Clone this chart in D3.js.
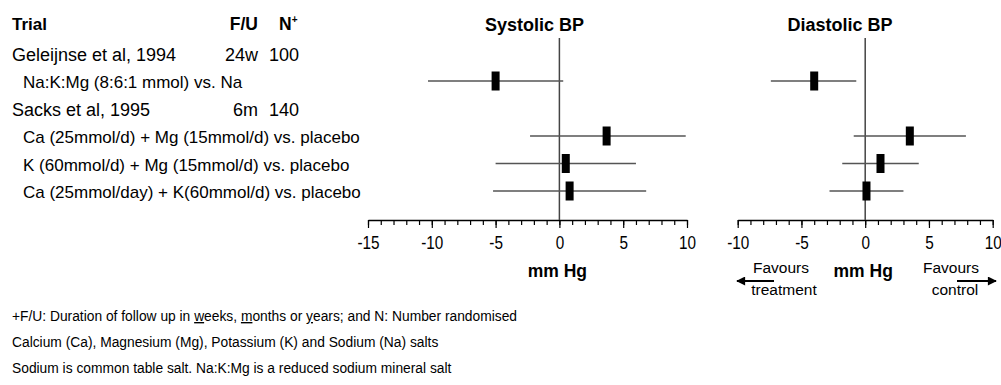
<!DOCTYPE html>
<html>
<head>
<meta charset="utf-8">
<script src="https://cdn.jsdelivr.net/npm/d3@7"></script>
<style>
  body { margin: 0; background: #fff; }
  svg { font-family: "Liberation Sans", Arial, sans-serif; }
</style>
</head>
<body>
<script>
// forest plot: systolic & diastolic BP, mineral salt trials

var trials = ["Geleijnse et al, 1994", "Sacks et al, 1995"];
var followUp = ["24w", "6m"];
var nRandom = ["100", "140"];
var trialRow = [0, 2];

var comparisons = [
  "Na:K:Mg (8:6:1 mmol) vs. Na",
  "Ca (25mmol/d) + Mg (15mmol/d) vs. placebo",
  "K (60mmol/d) + Mg (15mmol/d) vs. placebo",
  "Ca (25mmol/day) + K(60mmol/d) vs. placebo"
];
var compRow = [1, 3, 4, 5];

var sbpMean = [-5.0, 3.7, 0.5, 0.8];
var sbpLow  = [-10.3, -2.3, -5.0, -5.2];
var sbpHigh = [0.3, 9.9, 6.0, 6.8];

var dbpMean = [-4.0, 3.5, 1.2, 0.1];
var dbpLow  = [-7.4, -0.9, -1.8, -2.8];
var dbpHigh = [-0.7, 7.9, 4.2, 3.0];

var sbpTicks = [-15, -10, -5, 0, 5, 10];
var dbpTicks = [-10, -5, 0, 5, 10];

var footnotes = [
  ["+F/U: Duration of follow up in ", ["w"], "eeks, ", ["m"], "onths or ", ["y"], "ears; and N: Number randomised"],
  ["Calcium (Ca), Magnesium (Mg), Potassium (K) and Sodium (Na) salts"],
  ["Sodium is common table salt. Na:K:Mg is a reduced sodium mineral salt"]
];

var svg = d3.select("body").append("svg")
  .attr("width", 1001)
  .attr("height", 385);

var y = d3.scalePoint().domain([0, 1, 2, 3, 4, 5]).range([55, 192.5]);
var axisY = 220;

// table text
svg.append("text").attr("x", 12).attr("y", 30)
  .attr("font-size", 17).attr("font-weight", "bold").text("Trial");
svg.append("text").attr("x", 258).attr("y", 30).attr("text-anchor", "end")
  .attr("font-size", 17.5).attr("font-weight", "bold").text("F/U");
var nh = svg.append("text").attr("x", 279).attr("y", 30)
  .attr("font-size", 17.5).attr("font-weight", "bold").text("N");
nh.append("tspan").attr("font-size", 10).attr("dy", -7).text("+");

trials.forEach(function (t, i) {
  var yy = y(trialRow[i]) + 6;
  svg.append("text").attr("x", 12).attr("y", yy).attr("font-size", 18).text(t);
  svg.append("text").attr("x", 258).attr("y", yy).attr("text-anchor", "end")
    .attr("font-size", 18).text(followUp[i]);
  svg.append("text").attr("x", 269).attr("y", yy).attr("font-size", 18).text(nRandom[i]);
});

comparisons.forEach(function (c, i) {
  svg.append("text").attr("x", 23).attr("y", y(compRow[i]) + 5.5)
    .attr("font-size", 17).text(c);
});

// panels
function drawPanel(x, ticks, title, titleX, mean, low, high) {
  var g = svg.append("g");

  g.append("text").attr("x", titleX).attr("y", 31)
    .attr("text-anchor", "middle").attr("font-size", 18).attr("font-weight", "bold")
    .text(title);

  var minor = d3.range(x.domain()[0], x.domain()[1] + 1);
  g.append("g").attr("transform", "translate(0," + axisY + ")")
    .call(d3.axisBottom(x).tickValues(minor).tickSize(5).tickSizeOuter(0).tickFormat(""))
    .call(function (a) {
      a.select(".domain").attr("stroke", "#000").attr("stroke-width", 1.5);
      a.selectAll(".tick line").attr("stroke", "#000").attr("stroke-width", 1.2);
    });
  g.append("g").attr("transform", "translate(0," + axisY + ")")
    .call(d3.axisBottom(x).tickValues(ticks).tickSize(8).tickSizeOuter(0).tickPadding(8)
      .tickFormat(function (d) { return String(d); }))
    .call(function (a) {
      a.select(".domain").remove();
      a.selectAll(".tick line").attr("stroke", "#000").attr("stroke-width", 1.2);
      // narrow-looking digits, as in the original
      a.selectAll(".tick text").attr("font-size", 18).attr("fill", "#000")
        .attr("font-family", "'Liberation Sans', Arial, sans-serif")
        .attr("transform", "scale(0.85,1)");
    });

  g.append("line")
    .attr("x1", x(0)).attr("x2", x(0))
    .attr("y1", 38).attr("y2", axisY)
    .attr("stroke", "#444").attr("stroke-width", 1.5);

  g.selectAll(".ci").data(mean).enter().append("line")
    .attr("x1", function (d, i) { return x(low[i]); })
    .attr("x2", function (d, i) { return x(high[i]); })
    .attr("y1", function (d, i) { return y(compRow[i]) - 1.5; })
    .attr("y2", function (d, i) { return y(compRow[i]) - 1.5; })
    .attr("stroke", "#555").attr("stroke-width", 1.5);

  g.selectAll(".pt").data(mean).enter().append("rect")
    .attr("x", function (d) { return x(d) - 4; })
    .attr("y", function (d, i) { return y(compRow[i]) - 11; })
    .attr("width", 8).attr("height", 19)
    .attr("fill", "#000");

  g.append("text").attr("x", x(0) - 2).attr("y", 277)
    .attr("text-anchor", "middle").attr("font-size", 17.5).attr("font-weight", "bold")
    .text("mm Hg");
  return g;
}

var xS = d3.scaleLinear().domain([-15, 10]).range([368, 687]);
var xD = d3.scaleLinear().domain([-10, 10]).range([737.7, 992.7]);

drawPanel(xS, sbpTicks, "Systolic BP", 534.5, sbpMean, sbpLow, sbpHigh);
drawPanel(xD, dbpTicks, "Diastolic BP", 840, dbpMean, dbpLow, dbpHigh);

// favours labels and arrows
svg.append("defs").append("marker")
  .attr("id", "arr").attr("viewBox", "0 0 10 10")
  .attr("refX", 9).attr("refY", 5)
  .attr("markerWidth", 5).attr("markerHeight", 4.5).attr("orient", "auto")
  .append("path").attr("d", "M0,0L10,5L0,10Z").attr("fill", "#000");

[["Favours", "treatment", 781, 784, 774, 737], ["Favours", "control", 951, 955, 957, 996]].forEach(function (f) {
  svg.append("text").attr("x", f[2]).attr("y", 273).attr("text-anchor", "middle")
    .attr("font-size", 15.5).text(f[0]);
  svg.append("text").attr("x", f[3]).attr("y", 295).attr("text-anchor", "middle")
    .attr("font-size", 15.5).text(f[1]);
  svg.append("line").attr("x1", f[4]).attr("x2", f[5])
    .attr("y1", 281).attr("y2", 281)
    .attr("stroke", "#000").attr("stroke-width", 2)
    .attr("marker-end", "url(#arr)");
});

// footnotes
footnotes.forEach(function (parts, i) {
  var t = svg.append("text").attr("x", 12).attr("y", [321, 347, 373][i]).attr("font-size", 13.8);
  parts.forEach(function (p) {
    if (Array.isArray(p)) t.append("tspan").attr("text-decoration", "underline").text(p[0]);
    else t.append("tspan").text(p);
  });
});
</script>
</body>
</html>
